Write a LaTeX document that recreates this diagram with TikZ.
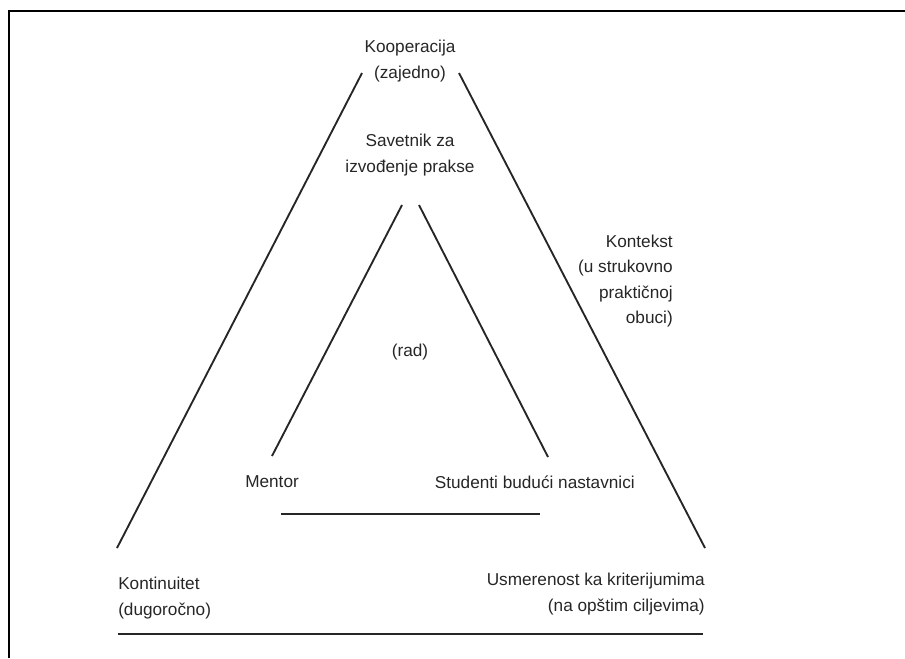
\documentclass[tikz,border=0pt]{standalone}
\usepackage{fontspec}
\setmainfont{Liberation Sans}
\begin{document}
\begin{tikzpicture}[x=0.75pt,y=-0.75pt,
  lbl/.style={inner sep=0pt,font=\fontsize{12.9}{19.1}\selectfont,text=black!85},
  tri/.style={line width=1.4pt,draw=black!85},
  frame/.style={line width=1.5pt,draw=black}]
\useasboundingbox (0,0) rectangle (905,658);
% frame
\draw[frame] (9,658) -- (9,11) -- (905,11);
% labels
\node[lbl,align=center] (koop) at (410,61) {Kooperacija\\(zajedno)};
\node[lbl,align=center] (sav) at (410,155) {Savetnik za\\izvođenje prakse};
\node[lbl,align=right,anchor=east] (kont) at (673,281) {Kontekst\\(u strukovno\\praktičnoj\\obuci)};
\node[lbl] (rad) at (410,352) {(rad)};
\node[lbl,anchor=west] (ment) at (245,482) {Mentor};
\node[lbl,anchor=east] (stud) at (635,482) {Studenti budući nastavnici};
\node[lbl,align=left,anchor=west] (kontin) at (118,598) {Kontinuitet\\(dugoročno)};
\node[lbl,align=right,anchor=east] (usm) at (705,594) {Usmerenost ka kriterijumima\\(na opštim ciljevima)};
% line end points
\coordinate (oTL) at (362,73);
\coordinate (oBL) at (117,548);
\coordinate (oTR) at (459,73);
\coordinate (oBR) at (705,548);
\coordinate (iTL) at (402,205);
\coordinate (iBL) at (272,456);
\coordinate (iTR) at (419,205);
\coordinate (iBR) at (548,457);
\coordinate (iB1) at (281,514);
\coordinate (iB2) at (540,514);
\coordinate (oB1) at (118,634);
\coordinate (oB2) at (703,634);
% triangle lines
\draw[tri] (oTL) -- (oBL);
\draw[tri] (oTR) -- (oBR);
\draw[tri] (iTL) -- (iBL);
\draw[tri] (iTR) -- (iBR);
\draw[tri] (iB1) -- (iB2);
\draw[tri] (oB1) -- (oB2);
\end{tikzpicture}
\end{document}
